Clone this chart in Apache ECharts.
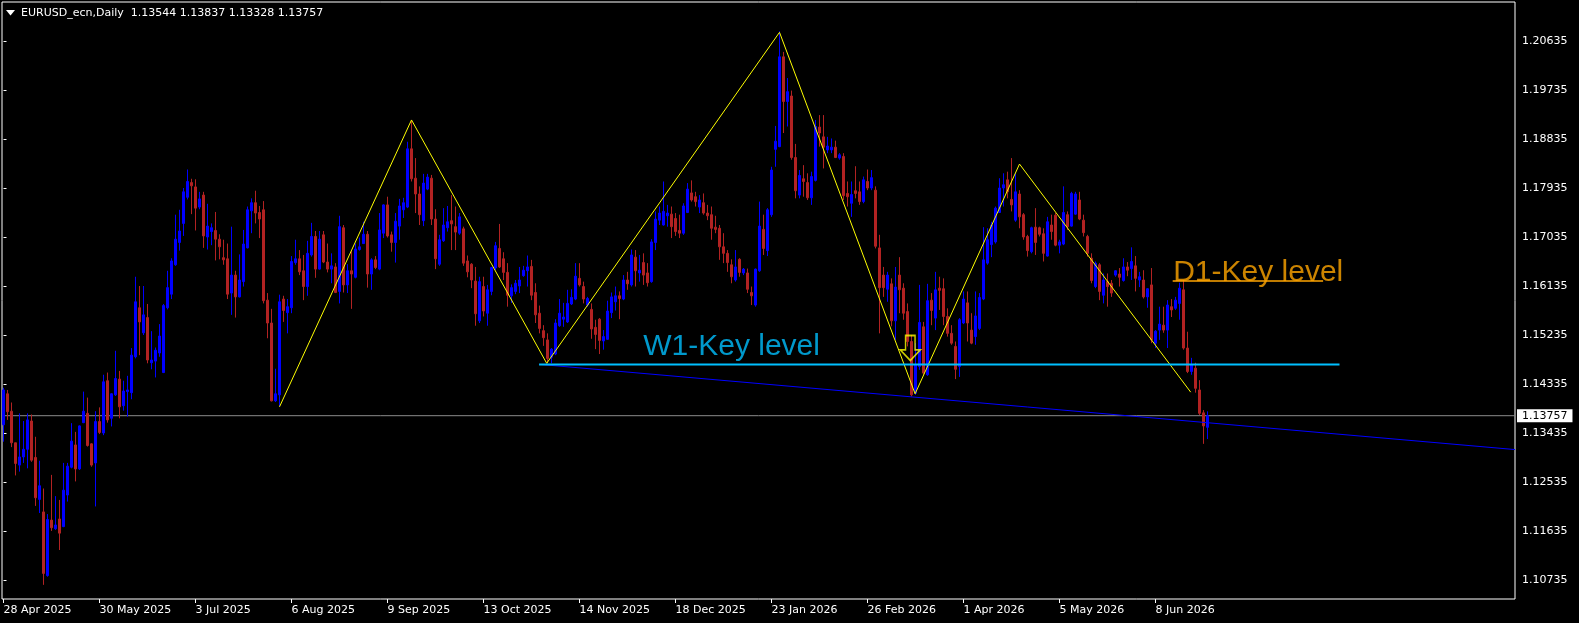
<!DOCTYPE html>
<html>
<head>
<meta charset="utf-8">
<script src="https://cdn.jsdelivr.net/npm/echarts@6.0.0/dist/echarts.min.js"></script>
<style>
html,body{margin:0;padding:0;background:#000;}
#chart{width:1579px;height:623px;}
</style>
</head>
<body>
<div id="chart"></div>
<script>
// Daily bars, each row: [open, high, low, close]
const ohlc = [
[1.1359,1.1427,1.1328,1.1423],[1.1416,1.1423,1.1368,1.1383],[1.1384,1.1400,1.1318,1.1326],[1.1326,1.1326,1.1266,1.1288],
[1.1285,1.1380,1.1273,1.1300],[1.1300,1.1366,1.1289,1.1314],[1.1314,1.1380,1.1279,1.1368],[1.1366,1.1378,1.1291,1.1294],
[1.1299,1.1337,1.1210,1.1225],[1.1222,1.1293,1.1197,1.1247],[1.1199,1.1242,1.1065,1.1086],[1.1082,1.1195,1.1080,1.1185],
[1.1184,1.1267,1.1164,1.1170],[1.1168,1.1228,1.1166,1.1175],[1.1186,1.1221,1.1129,1.1160],[1.1172,1.1289,1.1171,1.1239],
[1.1230,1.1289,1.1218,1.1283],[1.1281,1.1362,1.1279,1.1329],[1.1322,1.1346,1.1255,1.1278],[1.1278,1.1358,1.1276,1.1357],
[1.1363,1.1420,1.1362,1.1384],[1.1380,1.1409,1.1319,1.1321],[1.1324,1.1325,1.1282,1.1285],[1.1289,1.1384,1.1209,1.1365],
[1.1365,1.1391,1.1342,1.1345],[1.1344,1.1451,1.1340,1.1438],[1.1440,1.1455,1.1363,1.1368],[1.1371,1.1417,1.1356,1.1416],
[1.1414,1.1495,1.1412,1.1444],[1.1443,1.1458,1.1371,1.1392],[1.1394,1.1440,1.1385,1.1421],[1.1420,1.1449,1.1374,1.1423],
[1.1418,1.1500,1.1406,1.1487],[1.1484,1.1631,1.1481,1.1585],[1.1574,1.1614,1.1487,1.1548],[1.1528,1.1614,1.1524,1.1561],
[1.1556,1.1581,1.1472,1.1478],[1.1473,1.1531,1.1461,1.1478],[1.1476,1.1501,1.1446,1.1496],[1.1491,1.1544,1.1484,1.1522],
[1.1455,1.1581,1.1454,1.1578],[1.1574,1.1642,1.1571,1.1611],[1.1599,1.1665,1.1590,1.1660],[1.1653,1.1745,1.1651,1.1700],
[1.1694,1.1754,1.1679,1.1715],[1.1729,1.1794,1.1706,1.1787],[1.1777,1.1828,1.1773,1.1806],[1.1804,1.1811,1.1746,1.1798],
[1.1796,1.1810,1.1716,1.1757],[1.1759,1.1787,1.1755,1.1774],[1.1781,1.1787,1.1684,1.1706],[1.1704,1.1765,1.1681,1.1724],
[1.1714,1.1729,1.1689,1.1721],[1.1716,1.1750,1.1661,1.1700],[1.1700,1.1709,1.1663,1.1686],[1.1666,1.1699,1.1653,1.1662],
[1.1664,1.1692,1.1590,1.1599],[1.1601,1.1723,1.1561,1.1634],[1.1634,1.1642,1.1556,1.1594],[1.1594,1.1672,1.1593,1.1625],
[1.1622,1.1717,1.1613,1.1691],[1.1684,1.1760,1.1683,1.1754],[1.1752,1.1775,1.1711,1.1767],[1.1767,1.1789,1.1729,1.1748],
[1.1749,1.1761,1.1702,1.1737],[1.1754,1.1770,1.1582,1.1587],[1.1588,1.1601,1.1518,1.1546],[1.1546,1.1572,1.1402,1.1403],
[1.1403,1.1462,1.1401,1.1416],[1.1414,1.1598,1.1393,1.1585],[1.1590,1.1596,1.1548,1.1569],[1.1565,1.1590,1.1527,1.1576],
[1.1574,1.1669,1.1564,1.1659],[1.1657,1.1699,1.1653,1.1664],[1.1664,1.1680,1.1634,1.1640],[1.1642,1.1671,1.1588,1.1613],
[1.1613,1.1697,1.1596,1.1674],[1.1671,1.1730,1.1668,1.1705],[1.1705,1.1715,1.1629,1.1645],[1.1645,1.1715,1.1644,1.1700],
[1.1708,1.1715,1.1656,1.1658],[1.1658,1.1692,1.1639,1.1645],[1.1645,1.1674,1.1619,1.1651],[1.1649,1.1656,1.1601,1.1602],
[1.1604,1.1743,1.1582,1.1723],[1.1721,1.1726,1.1602,1.1616],[1.1616,1.1654,1.1601,1.1642],[1.1642,1.1678,1.1572,1.1636],
[1.1630,1.1692,1.1628,1.1682],[1.1681,1.1703,1.1679,1.1686],[1.1692,1.1732,1.1691,1.1709],[1.1709,1.1715,1.1611,1.1636],
[1.1636,1.1665,1.1607,1.1662],[1.1662,1.1669,1.1645,1.1648],[1.1645,1.1748,1.1643,1.1717],[1.1711,1.1764,1.1702,1.1763],
[1.1763,1.1778,1.1703,1.1706],[1.1708,1.1714,1.1677,1.1694],[1.1694,1.1748,1.1657,1.1733],[1.1724,1.1774,1.1699,1.1761],
[1.1754,1.1776,1.1739,1.1767],[1.1759,1.1879,1.1757,1.1866],[1.1866,1.1919,1.1806,1.1811],[1.1812,1.1849,1.1748,1.1783],
[1.1783,1.1797,1.1726,1.1745],[1.1734,1.1820,1.1724,1.1803],[1.1792,1.1820,1.1790,1.1814],[1.1812,1.1818,1.1726,1.1737],
[1.1737,1.1755,1.1645,1.1664],[1.1654,1.1708,1.1651,1.1699],[1.1697,1.1757,1.1695,1.1726],[1.1721,1.1761,1.1714,1.1732],
[1.1734,1.1781,1.1680,1.1728],[1.1723,1.1760,1.1680,1.1713],[1.1711,1.1748,1.1708,1.1741],[1.1719,1.1723,1.1651,1.1656],
[1.1660,1.1670,1.1630,1.1640],[1.1654,1.1656,1.1610,1.1625],[1.1623,1.1649,1.1541,1.1563],[1.1550,1.1631,1.1546,1.1622],
[1.1613,1.1631,1.1558,1.1568],[1.1564,1.1616,1.1541,1.1607],[1.1604,1.1649,1.1597,1.1648],[1.1647,1.1695,1.1643,1.1688],
[1.1683,1.1728,1.1647,1.1649],[1.1664,1.1676,1.1625,1.1639],[1.1639,1.1656,1.1576,1.1597],[1.1596,1.1617,1.1583,1.1611],
[1.1604,1.1625,1.1599,1.1619],[1.1614,1.1649,1.1601,1.1625],[1.1633,1.1651,1.1631,1.1643],[1.1642,1.1670,1.1613,1.1649],
[1.1650,1.1662,1.1588,1.1597],[1.1602,1.1619,1.1546,1.1561],[1.1564,1.1578,1.1527,1.1536],[1.1532,1.1542,1.1504,1.1519],
[1.1515,1.1527,1.1472,1.1481],[1.1483,1.1500,1.1472,1.1498],[1.1489,1.1553,1.1487,1.1546],[1.1541,1.1590,1.1539,1.1564],
[1.1553,1.1583,1.1539,1.1557],[1.1548,1.1607,1.1546,1.1582],[1.1581,1.1608,1.1579,1.1593],[1.1590,1.1656,1.1588,1.1632],
[1.1628,1.1656,1.1613,1.1616],[1.1613,1.1622,1.1582,1.1590],[1.1579,1.1594,1.1576,1.1591],[1.1571,1.1582,1.1517,1.1535],
[1.1538,1.1552,1.1498,1.1525],[1.1553,1.1555,1.1489,1.1514],[1.1513,1.1533,1.1497,1.1521],[1.1516,1.1587,1.1515,1.1568],
[1.1565,1.1602,1.1555,1.1594],[1.1585,1.1613,1.1569,1.1596],[1.1596,1.1604,1.1553,1.1591],[1.1590,1.1634,1.1588,1.1625],
[1.1625,1.1640,1.1607,1.1618],[1.1616,1.1681,1.1613,1.1671],[1.1667,1.1680,1.1613,1.1642],[1.1638,1.1671,1.1622,1.1643],
[1.1657,1.1674,1.1616,1.1634],[1.1638,1.1656,1.1613,1.1620],[1.1622,1.1700,1.1620,1.1695],[1.1694,1.1751,1.1680,1.1737],
[1.1735,1.1760,1.1726,1.1748],[1.1726,1.1806,1.1725,1.1751],[1.1743,1.1763,1.1723,1.1748],[1.1746,1.1760,1.1702,1.1723],
[1.1738,1.1748,1.1706,1.1714],[1.1716,1.1745,1.1702,1.1711],[1.1711,1.1766,1.1708,1.1761],[1.1749,1.1803,1.1748,1.1792],
[1.1785,1.1808,1.1769,1.1772],[1.1778,1.1787,1.1760,1.1769],[1.1759,1.1781,1.1748,1.1772],[1.1767,1.1784,1.1745,1.1748],
[1.1748,1.1763,1.1735,1.1743],[1.1745,1.1760,1.1699,1.1720],[1.1722,1.1743,1.1711,1.1718],[1.1720,1.1726,1.1662,1.1686],
[1.1686,1.1711,1.1656,1.1674],[1.1674,1.1680,1.1640,1.1657],[1.1653,1.1663,1.1619,1.1631],[1.1625,1.1680,1.1622,1.1649],
[1.1663,1.1665,1.1631,1.1639],[1.1638,1.1647,1.1634,1.1645],[1.1638,1.1646,1.1601,1.1608],[1.1602,1.1613,1.1579,1.1596],
[1.1579,1.1646,1.1576,1.1645],[1.1642,1.1769,1.1640,1.1724],[1.1718,1.1745,1.1671,1.1683],[1.1679,1.1757,1.1669,1.1754],
[1.1745,1.1833,1.1741,1.1827],[1.1865,1.1908,1.1833,1.1880],[1.1870,1.2082,1.1869,1.2035],[1.2035,1.2044,1.1895,1.1953],
[1.1953,1.1996,1.1907,1.1971],[1.1963,1.1973,1.1846,1.1850],[1.1850,1.1875,1.1775,1.1789],[1.1781,1.1827,1.1775,1.1817],
[1.1811,1.1836,1.1778,1.1806],[1.1804,1.1821,1.1772,1.1776],[1.1776,1.1824,1.1763,1.1815],[1.1808,1.1919,1.1806,1.1907],
[1.1906,1.1928,1.1870,1.1895],[1.1888,1.1928,1.1830,1.1869],[1.1864,1.1888,1.1858,1.1871],[1.1864,1.1885,1.1858,1.1869],
[1.1869,1.1881,1.1849,1.1850],[1.1849,1.1858,1.1846,1.1855],[1.1852,1.1858,1.1772,1.1780],[1.1784,1.1806,1.1760,1.1778],
[1.1766,1.1806,1.1741,1.1782],[1.1789,1.1834,1.1775,1.1784],[1.1787,1.1806,1.1763,1.1769],[1.1769,1.1815,1.1766,1.1809],
[1.1806,1.1828,1.1790,1.1794],[1.1794,1.1827,1.1790,1.1813],[1.1790,1.1797,1.1683,1.1687],[1.1684,1.1708,1.1527,1.1611],
[1.1634,1.1649,1.1594,1.1611],[1.1608,1.1640,1.1585,1.1634],[1.1618,1.1628,1.1540,1.1550],[1.1550,1.1649,1.1515,1.1612],
[1.1634,1.1667,1.1564,1.1607],[1.1610,1.1619,1.1552,1.1564],[1.1567,1.1582,1.1503,1.1512],[1.1512,1.1524,1.1411,1.1414],
[1.1417,1.1509,1.1414,1.1469],[1.1466,1.1616,1.1460,1.1547],[1.1539,1.1548,1.1451,1.1454],[1.1451,1.1618,1.1449,1.1587],
[1.1588,1.1601,1.1542,1.1569],[1.1555,1.1640,1.1533,1.1607],[1.1610,1.1631,1.1570,1.1606],[1.1609,1.1628,1.1542,1.1558],
[1.1558,1.1573,1.1521,1.1527],[1.1527,1.1542,1.1506,1.1509],[1.1503,1.1512,1.1443,1.1461],[1.1466,1.1555,1.1447,1.1552],
[1.1546,1.1604,1.1544,1.1590],[1.1583,1.1604,1.1512,1.1546],[1.1533,1.1564,1.1507,1.1509],[1.1521,1.1604,1.1506,1.1559],
[1.1536,1.1601,1.1533,1.1593],[1.1590,1.1722,1.1588,1.1662],[1.1656,1.1720,1.1653,1.1699],[1.1690,1.1732,1.1667,1.1726],
[1.1695,1.1760,1.1692,1.1757],[1.1749,1.1812,1.1748,1.1794],[1.1794,1.1821,1.1760,1.1800],[1.1809,1.1824,1.1775,1.1787],
[1.1773,1.1849,1.1751,1.1763],[1.1735,1.1821,1.1732,1.1787],[1.1783,1.1790,1.1720,1.1741],[1.1745,1.1748,1.1699,1.1704],
[1.1705,1.1708,1.1668,1.1679],[1.1677,1.1723,1.1674,1.1721],[1.1722,1.1757,1.1671,1.1694],[1.1721,1.1723,1.1705,1.1709],
[1.1710,1.1720,1.1659,1.1674],[1.1669,1.1741,1.1668,1.1732],[1.1726,1.1745,1.1699,1.1714],[1.1744,1.1748,1.1687,1.1689],
[1.1689,1.1699,1.1674,1.1695],[1.1691,1.1797,1.1689,1.1749],[1.1745,1.1751,1.1717,1.1723],[1.1724,1.1787,1.1723,1.1784],
[1.1746,1.1787,1.1745,1.1783],[1.1772,1.1787,1.1735,1.1737],[1.1735,1.1745,1.1705,1.1712],[1.1705,1.1708,1.1668,1.1674],
[1.1665,1.1674,1.1619,1.1624],[1.1613,1.1659,1.1610,1.1656],[1.1653,1.1656,1.1588,1.1604],[1.1597,1.1637,1.1582,1.1625],
[1.1622,1.1637,1.1576,1.1613],[1.1619,1.1625,1.1594,1.1601],[1.1634,1.1643,1.1631,1.1642],[1.1636,1.1647,1.1613,1.1630],
[1.1624,1.1665,1.1622,1.1649],[1.1649,1.1658,1.1632,1.1643],[1.1646,1.1685,1.1625,1.1659],[1.1651,1.1669,1.1604,1.1628],
[1.1625,1.1640,1.1612,1.1631],[1.1625,1.1643,1.1591,1.1594],[1.1594,1.1610,1.1574,1.1609],[1.1616,1.1647,1.1509,1.1515],
[1.1509,1.1533,1.1500,1.1531],[1.1533,1.1576,1.1515,1.1544],[1.1542,1.1576,1.1528,1.1533],[1.1533,1.1588,1.1500,1.1579],
[1.1576,1.1590,1.1557,1.1570],[1.1573,1.1594,1.1570,1.1588],[1.1582,1.1620,1.1552,1.1610],[1.1607,1.1625,1.1497,1.1500],
[1.1500,1.1530,1.1454,1.1457],[1.1457,1.1482,1.1451,1.1469],[1.1463,1.1473,1.1418,1.1426],[1.1423,1.1441,1.1377,1.1380],
[1.1381,1.1386,1.1324,1.1357],[1.13544,1.13837,1.13328,1.13757]
];

const symbolName = 'EURUSD_ecn,Daily';
const tickBars = [0, 24, 48, 72, 96, 120, 144, 168, 192, 216, 240, 264, 288];
const tickLabels = ['28 Apr 2025','30 May 2025','3 Jul 2025','6 Aug 2025','9 Sep 2025','13 Oct 2025',
  '14 Nov 2025','18 Dec 2025','23 Jan 2026','26 Feb 2026','1 Apr 2026','5 May 2026','8 Jun 2026'];
const priceTicks = [1.10735,1.11635,1.12535,1.13435,1.14335,1.15235,1.16135,1.17035,1.17935,1.18835,1.19735,1.20635];

// zigzag pattern pivots: [bar, price]
const zigzag = [[69,1.1392],[102,1.1919],[135.8,1.1472],[194,1.2080],[227.9,1.1416],[254,1.1838],[296.8,1.1419]];
// weekly key level (cyan) and daily key level (orange)
const w1Level = [[133.9,1.14698],[334,1.14698]];
const d1Level = [[292.3,1.16232],[329.9,1.16232]];
// descending blue trend line
const trendLine = [[134,1.1470],[377.875,1.13135]];
// text annotations: [bar, price]
const w1Text = [159.8,1.15016];
const d1Text = [292.3,1.16379];
// yellow arrow marker
const arrowPoint = [226.7,1.15001];
// x extent of the chart window (bars)
const xMin = -0.375, xMax = 377.875;

const last = ohlc[ohlc.length-1];
const candleData = ohlc.map((r,i)=>[i, r[0], r[3], r[2], r[1]]);
const priceLine = [[xMin, last[3]], [xMax, last[3]]];

const FONT = 'DejaVu Sans';
const chart = echarts.init(document.getElementById('chart'), null, {renderer:'canvas', width:1579, height:623});

chart.setOption({
  backgroundColor:'#000',
  animation:false,
  grid:{left:2, top:2, right:64, bottom:24, show:true, borderColor:'#ffffff', borderWidth:1, backgroundColor:'#000'},
  xAxis:{
    type:'value', min:xMin, max:xMax,
    axisLine:{show:false},
    splitLine:{show:false},
    axisTick:{show:true, customValues:tickBars, length:4, lineStyle:{color:'#fff'}},
    axisLabel:{show:true, customValues:tickBars, align:'left', margin:6, color:'#fff',
      fontFamily:FONT, fontSize:11, lineHeight:11,
      formatter:(v)=>{const k=tickBars.indexOf(Math.round(v)); return k>=0?tickLabels[k]:'';}}
  },
  yAxis:{
    type:'value', position:'right', min:1.10390, max:1.21357,
    axisLine:{show:false},
    splitLine:{show:false},
    axisTick:{show:true, customValues:priceTicks, length:3, lineStyle:{color:'#fff'}},
    axisLabel:{show:true, customValues:priceTicks, margin:7, color:'#fff', fontFamily:FONT, fontSize:11,
      formatter:(v)=>v.toFixed(5)}
  },
  graphic:[
    {type:'polygon', shape:{points:[[6,10],[15,10],[10.5,15.5]]}, style:{fill:'#fff'}},
    {type:'text', x:21, y:13, style:{text: symbolName + '  ' + last.map(v=>v.toFixed(5)).join(' '),
      fill:'#fff', font:'11px "DejaVu Sans"', verticalAlign:'middle'}}
  ],
  series:[
    {type:'line', data:priceLine, symbol:'none', silent:true, z:1,
      lineStyle:{color:'#8c8c8c', width:1},
      endLabel:{show:true, distance:2, formatter:()=>last[3].toFixed(5),
        color:'#000', backgroundColor:'#fff', fontFamily:FONT, fontSize:11, lineHeight:13, padding:[0,5,0,5]}
    },
    {
      type:'candlestick',
      data:candleData,
      dimensions:['x','open','close','lowest','highest'],
      encode:{x:'x', y:['open','close','lowest','highest']},
      barWidth:2,
      itemStyle:{color:'#0000FF', color0:'#B22222', borderColor:'#0000FF', borderColor0:'#B22222', borderWidth:1},
      silent:true,
      z:2
    },
    {type:'line', data:trendLine, symbol:'none', silent:true, lineStyle:{color:'#0000FF', width:1}, z:3},
    {type:'line', data:zigzag, symbol:'none', silent:true, lineStyle:{color:'#FFFF00', width:1}, z:4},
    {type:'line', data:w1Level, symbol:'none', silent:true, lineStyle:{color:'#00BFFF', width:2}, z:4},
    {type:'line', data:d1Level, symbol:'none', silent:true, lineStyle:{color:'#FFA500', width:1.5}, z:4},
    {type:'scatter', silent:true, z:5, symbolSize:1, itemStyle:{color:'rgba(0,0,0,0)'},
      data:[{value:w1Text, label:{formatter:'W1-Key level', color:'#00BFFF'}},
            {value:d1Text, label:{formatter:'D1-Key level', color:'#FFA500'}}],
      label:{show:true, position:'right', distance:0, fontFamily:'Liberation Sans', fontSize:30}
    },
    {type:'scatter', silent:true, z:5, data:[arrowPoint],
      symbol:'path://M5.5,0 L15.5,0 L15.5,15 L21,15 L10.5,26 L0,15 L5.5,15 Z', symbolSize:[20,25],
      itemStyle:{color:'rgba(0,0,0,0)', borderColor:'#FFFF00', borderWidth:1.6}}
  ]
});
</script>
</body>
</html>
